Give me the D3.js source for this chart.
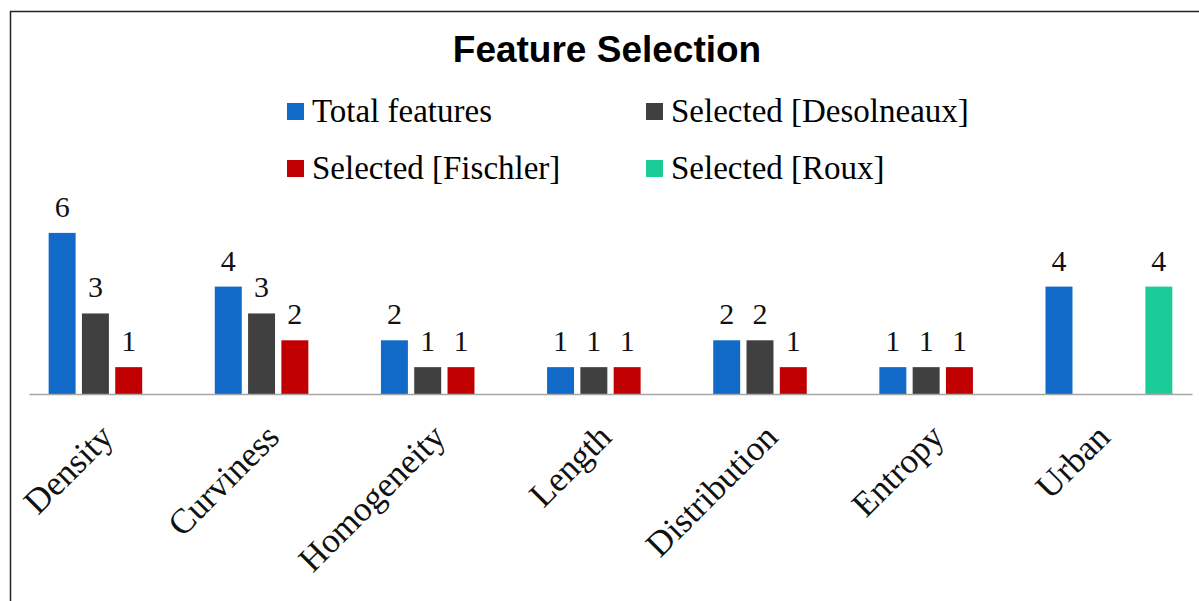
<!DOCTYPE html>
<html>
<head>
<meta charset="utf-8">
<script src="https://cdn.jsdelivr.net/npm/d3@7"></script>
<style>
    body { margin: 0; background: #fff; }
    svg { display: block; }
</style>
</head>
<body>
<div id="chart"></div>
<script>
// chart values
var categories = ['Density', 'Curviness', 'Homogeneity', 'Length', 'Distribution', 'Entropy', 'Urban'];
var seriesNames = ['Total features', 'Selected [Desolneaux]', 'Selected [Fischler]', 'Selected [Roux]'];
var totalFeatures = [6, 4, 2, 1, 2, 1, 4];
var selectedDesolneaux = [3, 3, 1, 1, 2, 1, null];
var selectedFischler = [1, 2, 1, 1, 1, 1, null];
var selectedRoux = [null, null, null, null, null, null, 4];
var seriesColors = ['#1169c8', '#404040', '#c00000', '#1ccc98'];

var values = [totalFeatures, selectedDesolneaux, selectedFischler, selectedRoux];

var width = 1199,
    height = 601;

var svg = d3.select('#chart')
    .append('svg')
    .attr('width', width)
    .attr('height', height);

// frame (top and left edges only)
svg.append('path')
    .attr('d', 'M10.5,' + height + 'V11.5H' + width)
    .attr('fill', 'none')
    .attr('stroke', '#222')
    .attr('stroke-width', 1.5);

// title
svg.append('text')
    .attr('x', 607)
    .attr('y', 62)
    .attr('text-anchor', 'middle')
    .style('font-family', '"Liberation Sans", Arial, sans-serif')
    .style('font-weight', 'bold')
    .style('font-size', '37px')
    .text('Feature Selection');

// legend, two rows of two
var legend = svg.append('g')
    .selectAll('g')
    .data(seriesNames)
    .enter().append('g')
    .attr('transform', function(d, i) {
        return 'translate(' + (i % 2 === 0 ? 287 : 646) + ',' + (i < 2 ? 103 : 160) + ')';
    });

legend.append('rect')
    .attr('width', 17)
    .attr('height', 17)
    .attr('fill', function(d, i) { return seriesColors[i]; });

legend.append('text')
    .attr('x', 25)
    .attr('y', 19)
    .style('font-family', '"Liberation Serif", "Times New Roman", serif')
    .style('font-size', '33px')
    .text(function(d) { return d; });

// scales
var x0 = d3.scaleBand()
    .domain(categories)
    .range([29, 1192]);

var x1 = d3.scaleBand()
    .domain(d3.range(seriesNames.length))
    .range([0, x0.bandwidth()])
    .paddingInner(0.19)
    .paddingOuter(0.59);

var y = d3.scaleLinear()
    .domain([0, 7])
    .range([394, 394 - 7 * 26.85]);

// flatten into bar records, skipping empty cells
var bars = [];
categories.forEach(function(c, ci) {
    values.forEach(function(s, si) {
        if (s[ci] !== null) bars.push({cat: c, series: si, value: s[ci]});
    });
});

svg.append('g')
    .selectAll('rect')
    .data(bars)
    .enter().append('rect')
    .attr('x', function(d) { return x0(d.cat) + x1(d.series); })
    .attr('y', function(d) { return y(d.value); })
    .attr('width', x1.bandwidth())
    .attr('height', function(d) { return y(0) - y(d.value); })
    .attr('fill', function(d) { return seriesColors[d.series]; });

// value labels
svg.append('g')
    .selectAll('text')
    .data(bars)
    .enter().append('text')
    .attr('x', function(d) { return x0(d.cat) + x1(d.series) + x1.bandwidth() / 2; })
    .attr('y', function(d) { return y(d.value) - 16; })
    .attr('text-anchor', 'middle')
    .style('font-family', '"Liberation Serif", "Times New Roman", serif')
    .style('font-size', '30px')
    .style('fill', '#111')
    .text(function(d) { return d.value; });

// category axis
var xAxis = svg.append('g')
    .attr('transform', 'translate(0,' + y(0) + ')')
    .call(d3.axisBottom(x0).tickSize(0).tickSizeOuter(0));

xAxis.select('.domain')
    .attr('stroke', '#a6a6a6')
    .attr('stroke-width', 1.5);

xAxis.selectAll('.tick text')
    .attr('x', 0)
    .attr('y', 0)
    .attr('dy', 0)
    .attr('text-anchor', 'end')
    .attr('transform', 'translate(3,45) rotate(-45)')
    .style('font-family', '"Liberation Serif", "Times New Roman", serif')
    .style('font-size', '35px')
    .style('fill', '#111');
</script>
</body>
</html>
